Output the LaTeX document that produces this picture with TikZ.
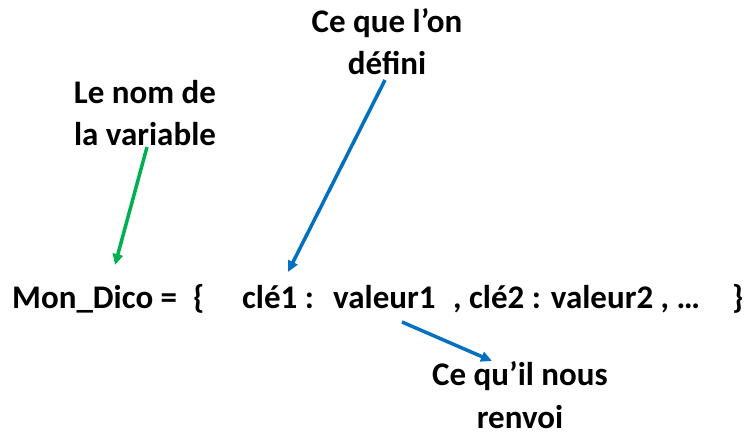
\documentclass[tikz,border=0pt]{standalone}
\usepackage{fontspec}
\setmainfont{Carlito}[BoldFont={* Bold}]
\usetikzlibrary{arrows.meta}
\definecolor{offgreen}{RGB}{0,176,80}
\definecolor{offblue}{RGB}{0,112,192}
\tikzset{
  txt/.style={inner sep=0pt, font=\fontsize{33}{43}\selectfont\bfseries},
  lbl/.style={inner sep=0pt, align=center, font=\fontsize{33}{43}\selectfont\bfseries},
  arr/.style={line width=3.5pt, -{Triangle[length=11pt,width=10pt]}},
}
\begin{document}
\begin{tikzpicture}[x=1pt,y=-1pt]
\useasboundingbox (0,0) rectangle (756,436);
\node[txt, anchor=base west] (m1) at (12,308) {Mon\_Dico =};
\node[txt, anchor=base west] (m2) at (193,308) {\{};
\node[txt, anchor=base west] (m3) at (242,308) {clé1 :};
\node[txt, anchor=base west] (m4) at (333,308) {valeur1};
\node[txt, anchor=base west] (m5) at (453,308) {, clé2 : valeur2 , …};
\node[txt, anchor=base west] (m6) at (732,308) {\}};
\node[lbl, anchor=base] (l1) at (145,146) {Le nom de\\la variable};
\node[lbl, anchor=base] (l2) at (387,75) {Ce que l’on\\défini};
\node[lbl, anchor=base] (l3) at (520,428) {Ce qu’il nous\\renvoi};
\coordinate (g1) at (147,147);
\coordinate (g2) at (115,265);
\coordinate (b1) at (385,80);
\coordinate (b2) at (288,272);
\coordinate (c1) at (402,322);
\coordinate (c2) at (492,361);
\draw[arr, offgreen] (g1) -- (g2);
\draw[arr, offblue] (b1) -- (b2);
\draw[arr, offblue] (c1) -- (c2);
\end{tikzpicture}
\end{document}
